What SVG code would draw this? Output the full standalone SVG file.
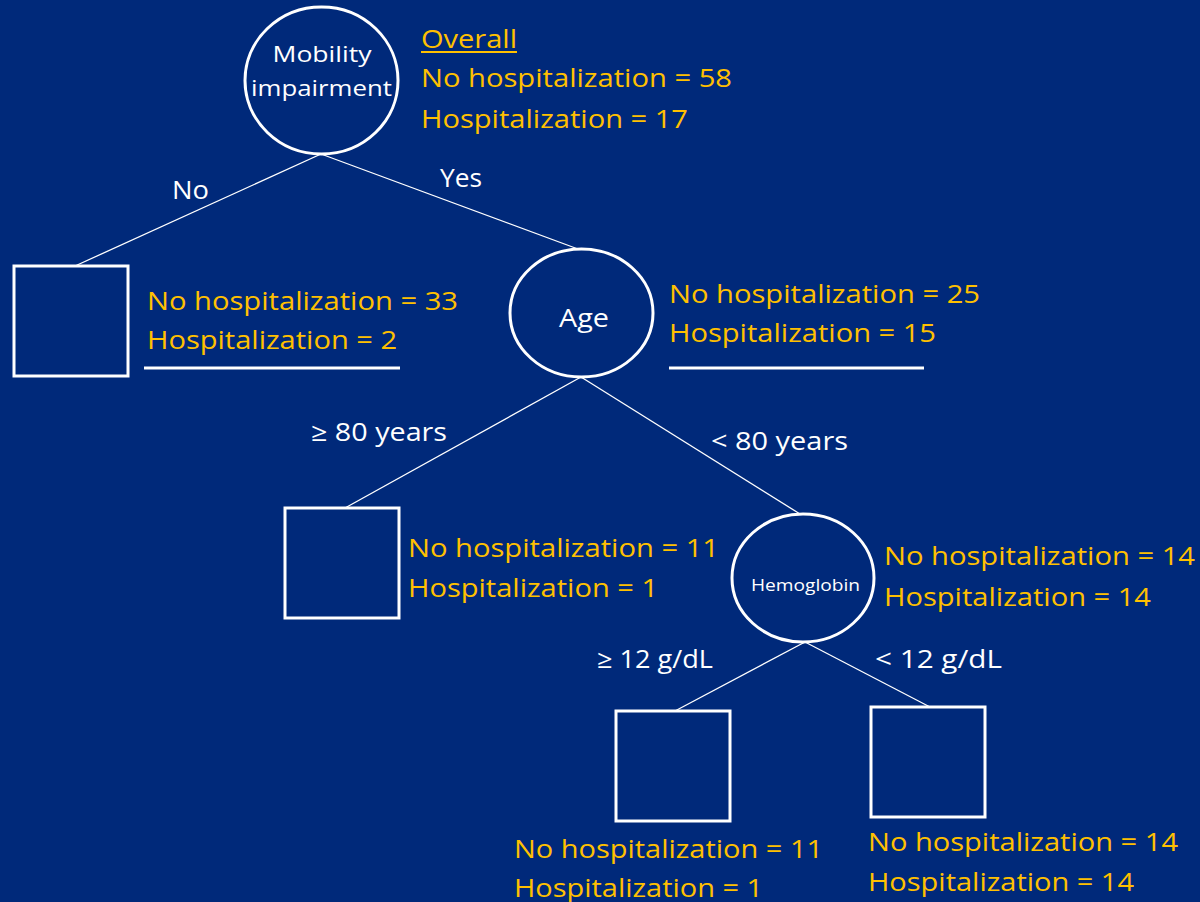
<svg xmlns="http://www.w3.org/2000/svg" width="1200" height="902" viewBox="0 0 1200 902">
  <style>
    .bg { fill: #00297a; }
    .shape { fill: none; stroke: #ffffff; stroke-width: 3; }
    .edge { stroke: #ffffff; stroke-width: 1.3; fill: none; }
    .rule { stroke: #ffffff; stroke-width: 3; }
    .lbl { font-family: "Open Sans", "Liberation Sans", sans-serif; fill: #ffffff; }
    .stat { font-family: "Open Sans", "Liberation Sans", sans-serif; fill: #ffc000; font-size: 25px; }
    .big { font-size: 25px; }
  </style>
  <rect class="bg" x="0" y="0" width="1200" height="902"/>

  <g id="connectors">
    <line class="edge" x1="321" y1="154" x2="75" y2="266"/>
    <line class="edge" x1="321" y1="154" x2="578" y2="249"/>
    <line class="edge" x1="581" y1="377" x2="345" y2="508"/>
    <line class="edge" x1="581" y1="377" x2="800" y2="514"/>
    <line class="edge" x1="805" y1="642" x2="675" y2="711"/>
    <line class="edge" x1="805" y1="642" x2="930" y2="707"/>
    <text class="lbl big" x="172" y="199" textLength="37" lengthAdjust="spacingAndGlyphs">No</text>
    <text class="lbl big" x="440" y="187" textLength="42" lengthAdjust="spacingAndGlyphs">Yes</text>
    <text class="lbl big" x="311" y="441" textLength="136" lengthAdjust="spacingAndGlyphs">≥ 80 years</text>
    <text class="lbl big" x="711" y="450" textLength="137" lengthAdjust="spacingAndGlyphs">&lt; 80 years</text>
    <text class="lbl big" x="597" y="668" textLength="116" lengthAdjust="spacingAndGlyphs">≥ 12 g/dL</text>
    <text class="lbl big" x="875" y="668" textLength="127" lengthAdjust="spacingAndGlyphs">&lt; 12 g/dL</text>
  </g>

  <g id="mobility">
    <ellipse class="shape" cx="321.5" cy="80.5" rx="76.5" ry="73.5"/>
    <text class="lbl" font-size="22" x="322" y="62" text-anchor="middle" textLength="99" lengthAdjust="spacingAndGlyphs">Mobility</text>
    <text class="lbl" font-size="22" x="321.5" y="96" text-anchor="middle" textLength="141" lengthAdjust="spacingAndGlyphs">impairment</text>
    <text class="stat" x="421" y="48" textLength="96" lengthAdjust="spacingAndGlyphs">Overall</text>
    <line x1="421" y1="52" x2="517" y2="52" stroke="#ffc000" stroke-width="2"/>
    <text class="stat" x="421" y="87" textLength="311" lengthAdjust="spacingAndGlyphs">No hospitalization = 58</text>
    <text class="stat" x="421" y="128" textLength="267" lengthAdjust="spacingAndGlyphs">Hospitalization = 17</text>
  </g>

  <g id="leaf-no">
    <rect class="shape" x="14" y="266" width="114" height="110"/>
    <text class="stat" x="147" y="310" textLength="311" lengthAdjust="spacingAndGlyphs">No hospitalization = 33</text>
    <text class="stat" x="147" y="349" textLength="250" lengthAdjust="spacingAndGlyphs">Hospitalization = 2</text>
    <line class="rule" x1="144" y1="368" x2="400" y2="368"/>
  </g>

  <g id="age">
    <ellipse class="shape" cx="581.5" cy="313" rx="71.5" ry="64"/>
    <text class="lbl big" x="584" y="327" text-anchor="middle" textLength="50" lengthAdjust="spacingAndGlyphs">Age</text>
    <text class="stat" x="669" y="303" textLength="311" lengthAdjust="spacingAndGlyphs">No hospitalization = 25</text>
    <text class="stat" x="669" y="342" textLength="267" lengthAdjust="spacingAndGlyphs">Hospitalization = 15</text>
    <line class="rule" x1="669" y1="368" x2="924" y2="368"/>
  </g>

  <g id="leaf-age-80plus">
    <rect class="shape" x="285" y="508" width="114" height="110"/>
    <text class="stat" x="408" y="557" textLength="311" lengthAdjust="spacingAndGlyphs">No hospitalization = 11</text>
    <text class="stat" x="408" y="597" textLength="250" lengthAdjust="spacingAndGlyphs">Hospitalization = 1</text>
  </g>

  <g id="hemoglobin">
    <ellipse class="shape" cx="803" cy="578" rx="71" ry="64"/>
    <text class="lbl" font-size="16" x="805.5" y="591" text-anchor="middle" textLength="109" lengthAdjust="spacingAndGlyphs">Hemoglobin</text>
    <text class="stat" x="884" y="565" textLength="311" lengthAdjust="spacingAndGlyphs">No hospitalization = 14</text>
    <text class="stat" x="884" y="606" textLength="267" lengthAdjust="spacingAndGlyphs">Hospitalization = 14</text>
  </g>

  <g id="leaf-hb-high">
    <rect class="shape" x="616" y="711" width="114" height="110"/>
    <text class="stat" x="514" y="858" textLength="309" lengthAdjust="spacingAndGlyphs">No hospitalization = 11</text>
    <text class="stat" x="514" y="897" textLength="249" lengthAdjust="spacingAndGlyphs">Hospitalization = 1</text>
  </g>

  <g id="leaf-hb-low">
    <rect class="shape" x="871" y="707" width="114" height="110"/>
    <text class="stat" x="868" y="851" textLength="310" lengthAdjust="spacingAndGlyphs">No hospitalization = 14</text>
    <text class="stat" x="868" y="891" textLength="266" lengthAdjust="spacingAndGlyphs">Hospitalization = 14</text>
  </g>
</svg>
